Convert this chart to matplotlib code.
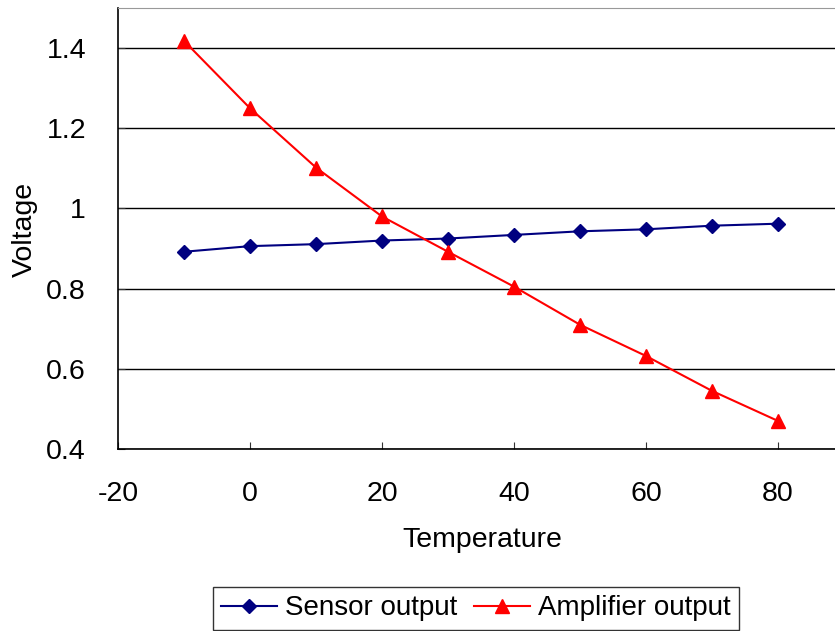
import matplotlib.pyplot as plt
import numpy as np

plt.rcParams['font.family'] = ['Liberation Sans', 'DejaVu Sans']
plt.rcParams['axes.unicode_minus'] = False

# temperature sweep and measured voltages
temperature = [-10, 0, 10, 20, 30, 40, 50, 60, 70, 80]
sensor_output = [0.892, 0.906, 0.911, 0.920, 0.925, 0.934, 0.943, 0.948, 0.957, 0.962]
amplifier_output = [1.418, 1.250, 1.102, 0.980, 0.892, 0.805, 0.710, 0.632, 0.545, 0.470]

fig = plt.figure(figsize=(8.35, 6.31), dpi=100)
# plot area runs slightly past the right edge of the figure
ax = fig.add_axes([118 / 835, 1 - 449 / 631, (844 - 118) / 835, (449 - 8) / 631])

ax.plot(temperature, sensor_output, color='#000080', lw=1.5, marker='D',
        markersize=7.5, label='Sensor output')
ax.plot(temperature, amplifier_output, color='#ff0000', lw=1.5, marker='^',
        markersize=10, label='Amplifier output')

ax.set_xlim(-20, 90)
ax.set_ylim(0.4, 1.5)
ax.set_xticks(np.arange(-20, 81, 20))
ax.set_yticks([0.4, 0.6, 0.8, 1.0, 1.2, 1.4])
ax.set_yticklabels(['0.4', '0.6', '0.8', '1', '1.2', '1.4'])
ax.yaxis.grid(True, color='black', lw=1)
ax.set_axisbelow(True)

ax.tick_params(axis='both', direction='in', labelsize=20.5, length=5, color='#333333')
ax.tick_params(axis='x', pad=23)
ax.tick_params(axis='y', pad=23)

for side in ('left', 'bottom'):
    ax.spines[side].set_color('black')
    ax.spines[side].set_linewidth(1.2)
for side in ('top', 'right'):
    ax.spines[side].set_color('#999999')

fig.text(482 / 835, 1 - 540 / 631, 'Temperature', fontsize=20.5, ha='center', va='center')
fig.text(25 / 835, 1 - 229 / 631, 'Voltage', fontsize=20.5, ha='center', va='center', rotation=90)

leg = fig.legend(loc='upper center', bbox_to_anchor=(476 / 835, 1 - 587 / 631), ncol=2,
                 fontsize=20, frameon=True, fancybox=False, edgecolor='black',
                 handlelength=2.0, columnspacing=0.6, handletextpad=0.3,
                 borderpad=0.3, borderaxespad=0)
leg.get_frame().set_linewidth(1.0)

fig.savefig('out.png', dpi=100)
